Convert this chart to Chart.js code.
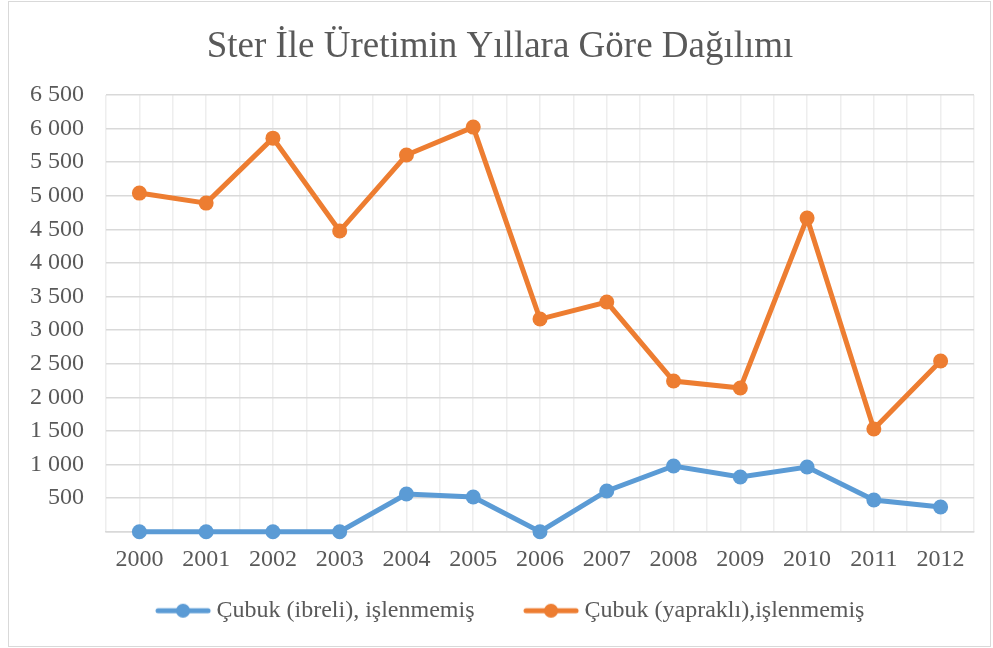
<!DOCTYPE html>
<html>
<head>
<meta charset="utf-8">
<script src="https://cdn.jsdelivr.net/npm/chart.js@4/dist/chart.umd.min.js"></script>
<style>
  body { margin: 0; background: #fff; }
  #wrap { position: relative; width: 993px; height: 648px; }
  #frame { position: absolute; left: 8px; top: 1px; width: 981px; height: 644px; border: 1px solid #d9d9d9; pointer-events: none; }
</style>
</head>
<body>
<div id="wrap">
  <canvas id="myChart" width="993" height="648"></canvas>
  <div id="frame"></div>
</div>
<script>
// Datos del gráfico
const years = ['2000', '2001', '2002', '2003', '2004', '2005', '2006', '2007', '2008', '2009', '2010', '2011', '2012'];
const ibreli = [0, 0, 0, 0, 561, 516, 0, 606, 978, 814, 963, 472, 368];
const yaprakli = [5040, 4891, 5858, 4475, 5606, 6022, 3165, 3418, 2243, 2138, 4668, 1528, 2540];
const seriesNames = ['Çubuk (ibreli), işlenmemiş', 'Çubuk (yapraklı),işlenmemiş'];
const yTicks = { min: 0, max: 6500, step: 500 };

const blue = '#5B9BD5';
const orange = '#ED7D31';
const textColor = '#595959';
const fontFamily = '"Liberation Serif", "Times New Roman", serif';

// formato con espacio como separador de miles
const formatNum = (v) => {
    if (v === 0) return '';
    if (v < 1000) return String(v);
    const rest = String(v % 1000).padStart(3, '0');
    return Math.floor(v / 1000) + ' ' + rest;
};

// icono de leyenda: línea con punto en el medio (desplazado a la derecha)
const legendIcon = (color) => {
    const c = document.createElement('canvas');
    c.width = 84;
    c.height = 16;
    const g = c.getContext('2d');
    g.strokeStyle = color;
    g.lineWidth = 5;
    g.lineCap = 'round';
    g.beginPath();
    g.moveTo(30, 8);
    g.lineTo(80, 8);
    g.stroke();
    g.fillStyle = color;
    g.beginPath();
    g.arc(55, 8, 7, 0, Math.PI * 2);
    g.fill();
    return c;
};

const toPoints = (arr) => arr.map((v, i) => ({ x: i, y: v }));

const ctx = document.getElementById('myChart').getContext('2d');
new Chart(ctx, {
    type: 'line',
    data: {
        datasets: [
            {
                label: seriesNames[0],
                data: toPoints(ibreli),
                borderColor: blue,
                backgroundColor: blue,
                borderWidth: 5,
                pointRadius: 7.5,
                pointHoverRadius: 7.5,
                pointBorderWidth: 0,
                clip: false
            },
            {
                label: seriesNames[1],
                data: toPoints(yaprakli),
                borderColor: orange,
                backgroundColor: orange,
                borderWidth: 5,
                pointRadius: 7.5,
                pointHoverRadius: 7.5,
                pointBorderWidth: 0,
                clip: false
            }
        ]
    },
    options: {
        responsive: false,
        animation: false,
        layout: { padding: { left: 7, right: 0, top: 0, bottom: 15.3 } },
        scales: {
            x: {
                type: 'linear',
                min: -0.5,
                max: years.length - 0.5,
                grid: { color: '#eeeeee', lineWidth: 1.5, drawTicks: false },
                border: { color: '#d9d9d9', width: 1.5 },
                ticks: {
                    stepSize: 0.5,
                    autoSkip: false,
                    maxRotation: 0,
                    padding: 14,
                    color: textColor,
                    font: { family: fontFamily, size: 24 },
                    callback: (v) => Number.isInteger(v) ? years[v] : ''
                },
                afterFit: (scale) => { scale.height = 38; }
            },
            y: {
                min: yTicks.min,
                max: yTicks.max,
                grid: { color: '#d9d9d9', lineWidth: 1.5, drawTicks: false },
                border: { display: false },
                ticks: {
                    stepSize: yTicks.step,
                    padding: 22,
                    color: textColor,
                    font: { family: fontFamily, size: 24 },
                    callback: (v) => formatNum(v)
                },
                afterFit: (scale) => { scale.width = 99; }
            },
            // eje vacío a la derecha, solo para dejar margen
            y2: {
                position: 'right',
                min: 0,
                max: 1,
                grid: { display: false },
                border: { display: false },
                ticks: { display: false },
                afterFit: (scale) => { scale.width = 19; }
            }
        },
        plugins: {
            title: {
                display: true,
                text: 'Ster İle Üretimin Yıllara Göre Dağılımı',
                color: textColor,
                font: { family: fontFamily, size: 37, weight: 'normal' },
                padding: { top: 25, bottom: 25.6 }
            },
            legend: {
                position: 'bottom',
                labels: {
                    usePointStyle: true,
                    pointStyleWidth: 69,
                    padding: 29,
                    color: textColor,
                    font: { family: fontFamily, size: 24 },
                    generateLabels: (chart) => chart.data.datasets.map((ds, i) => ({
                        text: ds.label,
                        fontColor: textColor,
                        pointStyle: legendIcon(ds.borderColor),
                        datasetIndex: i,
                        hidden: false,
                        lineWidth: 0
                    }))
                }
            },
            tooltip: { enabled: false }
        }
    }
});
</script>
</body>
</html>
